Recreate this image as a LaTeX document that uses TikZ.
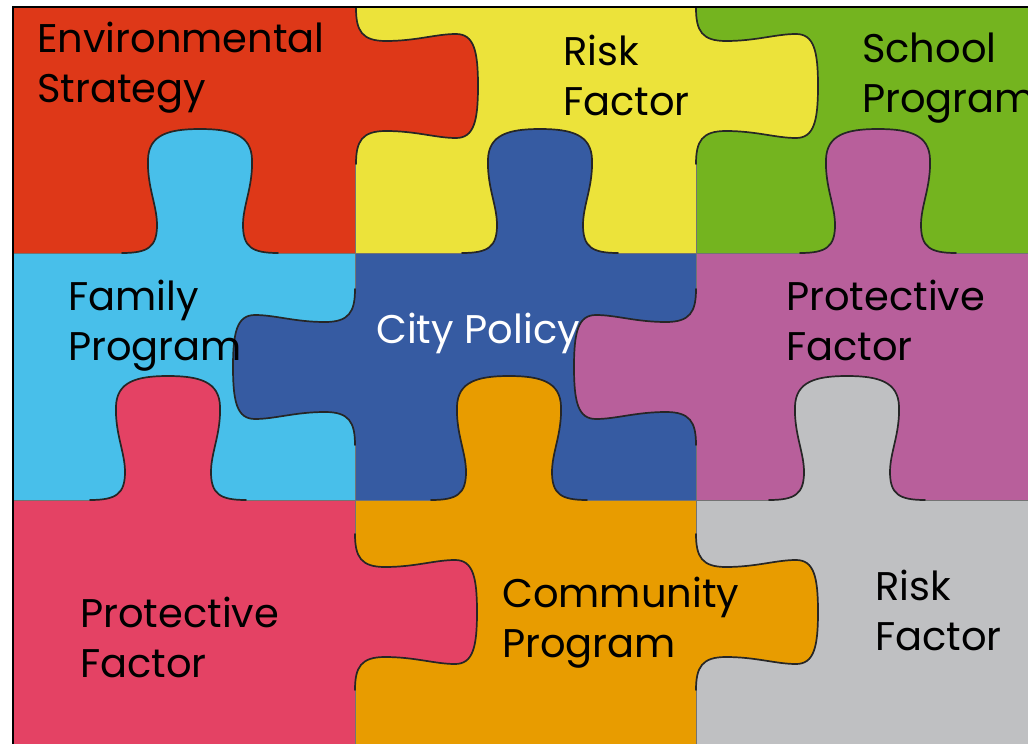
\documentclass[tikz,border=0pt]{standalone}
\usepackage{fontspec}
\newfontfamily\gothic{Poppins}
\usepackage{xcolor}
\usepackage{tikz}
\definecolor{ered}{HTML}{DE3818}
\definecolor{yel}{HTML}{ECE33A}
\definecolor{grn}{HTML}{74B41F}
\definecolor{sky}{HTML}{48BFEA}
\definecolor{navy}{HTML}{365BA2}
\definecolor{plum}{HTML}{B85F9B}
\definecolor{rose}{HTML}{E44264}
\definecolor{amber}{HTML}{E89C00}
\definecolor{ash}{HTML}{BFC0C2}
\tikzset{
  seam/.style={draw=black!85, line width=1.7pt, line cap=round, line join=round},
  grid/.style={draw=black!55, line width=0.6pt},
  frame/.style={draw=black, line width=2pt},
  lab/.style={text=black, font=\gothic\fontsize{40}{50}\selectfont, align=left, anchor=base west, inner sep=0pt},
  labw/.style={lab, text=white},
  knobline/.style={insert path={(-78,0) .. controls (-52,0) and (-43,6) .. (-43,28)
    .. controls (-43,48) and (-53,66) .. (-52,94)
    .. controls (-51,118) and (-32,124) .. (0,124)
    .. controls (32,124) and (51,118) .. (52,94)
    .. controls (53,66) and (43,48) .. (43,28)
    .. controls (43,6) and (52,0) .. (78,0)}},
  lugline/.style={insert path={(-78,0) .. controls (-55,0) and (-45,6) .. (-45,30)
    .. controls (-45,60) and (-52,80) .. (-52,100)
    .. controls (-52,118) and (-35,122) .. (0,122)
    .. controls (35,122) and (52,118) .. (52,100)
    .. controls (52,80) and (45,60) .. (45,30)
    .. controls (45,6) and (55,0) .. (78,0)}},
  pics/knob/.style={code={
    \fill[#1] [knobline] -- (78,-2) -- (-78,-2) -- cycle;
    \draw[seam] [knobline];
  }},
  pics/lug/.style={code={
    \fill[#1] [lugline] -- (78,-2) -- (-78,-2) -- cycle;
    \draw[seam] [lugline];
  }},
}

\begin{document}
\begin{tikzpicture}[x=1pt,y=-1pt]
  \clip (0,0) rectangle (1028,744);
  \fill[white] (0,0) rectangle (1028,744);

  % pieces
  \fill[ered] (14,7) rectangle (355,253);
  \fill[yel] (355,7) rectangle (696,253);
  \fill[grn] (696,7) rectangle (1040,253);
  \fill[sky] (14,253) rectangle (355,500);
  \fill[navy] (355,253) rectangle (696,500);
  \fill[plum] (696,253) rectangle (1040,500);
  \fill[rose] (14,500) rectangle (355,750);
  \fill[amber] (355,500) rectangle (696,750);
  \fill[ash] (696,500) rectangle (1040,750);
  \draw[grid] (355,7) -- (355,750) (696,7) -- (696,750)
    (14,253) -- (1040,253) (14,500) -- (1040,500);

  % knobs
  \pic[rotate=180] at (200,253) {knob=sky};
  \pic[rotate=180] at (540,253) {knob=navy};
  \pic[rotate=180] at (878,253) {knob=plum};
  \pic[rotate=180] at (168,500) {knob=rose};
  \pic[rotate=180] at (509,500) {knob=amber};
  \pic[rotate=180] at (847,500) {knob=ash};
  \pic[rotate=90] at (356,86) {lug=ered};
  \pic[rotate=90] at (696,86) {lug=yel};
  \pic[rotate=-90] at (355,367) {lug=navy};
  \pic[rotate=-90] at (696,367) {lug=plum};
  \pic[rotate=90] at (355,612) {lug=rose};
  \pic[rotate=90] at (696,612) {lug=amber};

  \draw[frame] (13,750) -- (13,7) -- (1040,7);

  \node[lab] (env) at (37,102) {Environmental\\Strategy};
  \node[lab] (riskhi) at (563,115) {Risk\\Factor};
  \node[lab] (school) at (862,112) {School\\Program};
  \node[lab] (family) at (68,360) {Family\\Program};
  \node[labw] (city) at (376,343) {City Policy};
  \node[lab] (prothi) at (786,360) {Protective\\Factor};
  \node[lab] (protlo) at (80,677) {Protective\\Factor};
  \node[lab] (comm) at (502,657) {Community\\Program};
  \node[lab] (risklo) at (875,650) {Risk\\Factor};
\end{tikzpicture}
\end{document}
